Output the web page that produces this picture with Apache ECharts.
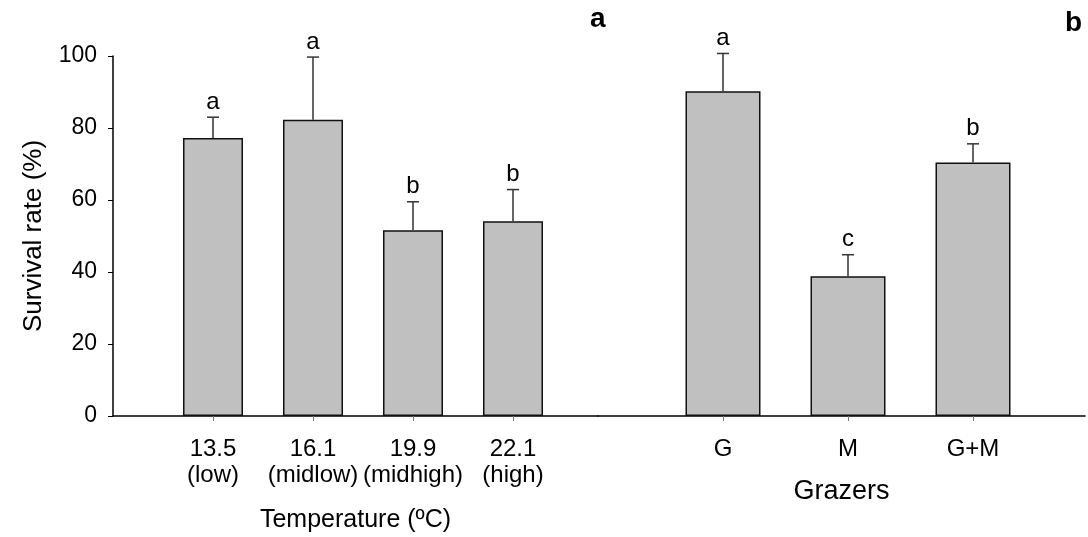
<!DOCTYPE html>
<html>
<head>
<meta charset="utf-8">
<script src="https://cdn.jsdelivr.net/npm/echarts@6/dist/echarts.min.js"></script>
<style>html,body{margin:0;padding:0;background:#fff}#c{width:1088px;height:537px}</style>
</head>
<body>
<div id="c"></div>
<script>
const tempCategories = ['13.5\n(low)', '16.1\n(midlow)', '19.9\n(midhigh)', '22.1\n(high)'];
const tempMeans = [77.2, 82.3, 51.6, 54.1];
const tempErrors = [5.8, 17.4, 7.9, 8.8];
const tempLetters = ['a', 'a', 'b', 'b'];

const grazerCategories = ['G', 'M', 'G+M'];
const grazerMeans = [90.2, 38.8, 70.4];
const grazerErrors = [10.5, 6.0, 5.2];
const grazerLetters = ['a', 'c', 'b'];

const yTicks = [0, 20, 40, 60, 80, 100];

const FONT = 'Liberation Sans, Arial, sans-serif';
const tempPos = tempCategories.map((c, i) => i + 1);
const grazerPos = grazerCategories.map((c, i) => i + 1);

function errItem(params, api) {
  const x = api.value(0), y = api.value(1), e = api.value(2);
  const p0 = api.coord([x, y]);
  const p1 = api.coord([x, y + e]);
  return {
    type: 'group',
    children: [
      { type: 'line', shape: { x1: p0[0], y1: p0[1], x2: p1[0], y2: p1[1] }, style: { stroke: '#333', lineWidth: 1.5 } },
      { type: 'line', shape: { x1: p1[0] - 6, y1: p1[1], x2: p1[0] + 6, y2: p1[1] }, style: { stroke: '#333', lineWidth: 1.5 } },
      { type: 'text', x: p1[0], y: p1[1] - 3, style: { text: api.value(3), fill: '#000', font: '24px ' + FONT, align: 'center', verticalAlign: 'bottom' } }
    ]
  };
}

function xAxisDef(gridIndex, cats, pos, max, name, nameGap, nameSize) {
  return {
    gridIndex, type: 'value', min: 0, max,
    axisLine: { show: true, lineStyle: { color: '#000', width: 1.5 } },
    axisTick: { show: true, customValues: pos, length: 5, lineStyle: { color: '#777', width: 1 } },
    axisLabel: { customValues: pos, formatter: v => cats[Math.round(v) - 1] || '', color: '#000', fontSize: 24, fontFamily: FONT, lineHeight: 26, margin: 20 },
    splitLine: { show: false },
    name, nameLocation: 'middle', nameGap,
    nameTextStyle: { color: '#000', fontSize: nameSize, fontFamily: FONT }
  };
}

const chart = echarts.init(document.getElementById('c'));
chart.setOption({
  animation: false,
  backgroundColor: '#fff',
  title: [
    { text: 'a', left: 585, top: 0, textStyle: { fontSize: 28, fontWeight: 'bold', fontFamily: FONT, color: '#000' } },
    { text: 'b', left: 1060, top: 4, textStyle: { fontSize: 28, fontWeight: 'bold', fontFamily: FONT, color: '#000' } }
  ],
  grid: [
    { left: 113, top: 56, width: 485, bottom: 121, outerBoundsMode: 'none', containLabel: false },
    { left: 598, top: 56, width: 487, bottom: 121, outerBoundsMode: 'none', containLabel: false }
  ],
  xAxis: [
    xAxisDef(0, tempCategories, tempPos, 4.85, 'Temperature (ºC)', 92, 25),
    xAxisDef(1, grazerCategories, grazerPos, 3.896, 'Grazers', 62, 27)
  ],
  yAxis: [
    {
      gridIndex: 0, type: 'value', min: yTicks[0], max: yTicks[yTicks.length - 1], interval: 20,
      axisLine: { show: true, lineStyle: { color: '#000', width: 1.5 } },
      axisTick: { show: true, length: 5, lineStyle: { color: '#000' } },
      axisLabel: { color: '#000', fontSize: 23, fontFamily: FONT, margin: 16 },
      splitLine: { show: false },
      name: 'Survival rate (%)', nameLocation: 'middle', nameGap: 66,
      nameTextStyle: { color: '#000', fontSize: 26, fontFamily: FONT }
    },
    { gridIndex: 1, type: 'value', min: 0, max: 100, show: false }
  ],
  series: [
    {
      type: 'bar', xAxisIndex: 0, yAxisIndex: 0, barWidth: 60,
      itemStyle: { color: '#c0c0c0', borderColor: '#111', borderWidth: 1.5 },
      data: tempMeans.map((v, i) => [tempPos[i], v])
    },
    {
      type: 'custom', xAxisIndex: 0, yAxisIndex: 0, clip: false, renderItem: errItem,
      data: tempMeans.map((v, i) => [tempPos[i], v, tempErrors[i], tempLetters[i]]), z: 5
    },
    {
      type: 'bar', xAxisIndex: 1, yAxisIndex: 1, barWidth: 75,
      itemStyle: { color: '#c0c0c0', borderColor: '#111', borderWidth: 1.5 },
      data: grazerMeans.map((v, i) => [grazerPos[i], v])
    },
    {
      type: 'custom', xAxisIndex: 1, yAxisIndex: 1, clip: false, renderItem: errItem,
      data: grazerMeans.map((v, i) => [grazerPos[i], v, grazerErrors[i], grazerLetters[i]]), z: 5
    }
  ]
});
</script>
</body>
</html>
